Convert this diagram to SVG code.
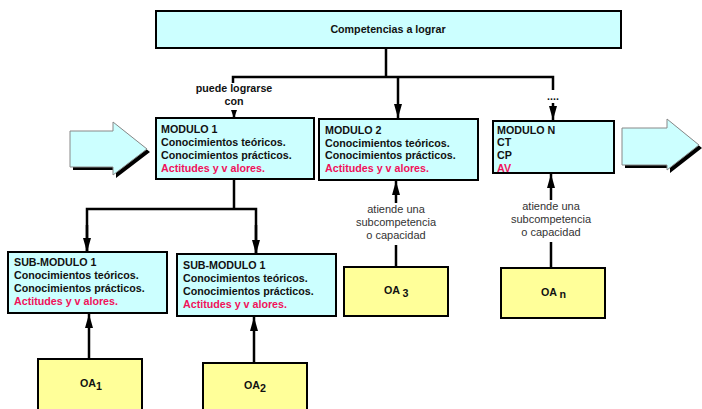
<svg xmlns="http://www.w3.org/2000/svg" width="702" height="409" viewBox="0 0 702 409">
  <style>
    .box { stroke: #000; stroke-width: 2; }
    .cyan { fill: #CCFFFF; }
    .yellow { fill: #FFFF99; }
    .t { font-family: "Liberation Sans", Arial, sans-serif; font-size: 10.7px; font-weight: bold; fill: #111; }
    .red { fill: #F0125A; }
    .note { font-family: "Liberation Sans", Arial, sans-serif; font-size: 11px; fill: #333; text-anchor: middle; }
    .mid { text-anchor: middle; }
    .line { stroke: #000; stroke-width: 2.5; fill: none; }
    .big-arrow { fill: #CCFFFF; stroke: #888; stroke-width: 1; }
  </style>
  <defs>
    <marker id="head" viewBox="0 0 14 8" refX="14" refY="4" markerWidth="14" markerHeight="8" markerUnits="userSpaceOnUse" orient="auto">
      <path d="M0,0 L14,4 L0,8 z" fill="#000"/>
    </marker>
    <marker id="head-small" viewBox="0 0 8 6" refX="8" refY="3" markerWidth="8" markerHeight="6" markerUnits="userSpaceOnUse" orient="auto">
      <path d="M0,0 L8,3 L0,6 z" fill="#000"/>
    </marker>
  </defs>

  <!-- flow arrows at both sides -->
  <g id="arrow-in">
    <polygon points="73,134 116,134 116,125 150,152 116,178 116,170 73,170" fill="#000"/>
    <polygon class="big-arrow" points="70,131 113,131 113,122 147,149 113,175 113,167 70,167"/>
  </g>
  <g id="arrow-out">
    <polygon points="625,131 670,131 670,122 702,148 670,173 670,168 625,168" fill="#000"/>
    <polygon class="big-arrow" points="622,128 667,128 667,119 699,145 667,170 667,165 622,165"/>
  </g>

  <!-- connectors -->
  <g id="connectors">
    <polyline class="line" points="386,48 386,77"/>
    <polyline class="line" points="233,83 233,77 553,77 553,90"/>
    <polyline class="line" points="398,77 398,118" marker-end="url(#head)"/>
    <line class="line" x1="234" y1="111" x2="234" y2="118" marker-end="url(#head-small)"/>
    <line class="line" x1="553" y1="103" x2="553" y2="120" marker-end="url(#head)"/>
    <polyline class="line" points="234,179 234,209"/>
    <polyline class="line" points="87,252 87,209 256,209 256,254"/>
    <line class="line" x1="87" y1="225" x2="87" y2="252" marker-end="url(#head)"/>
    <line class="line" x1="256" y1="225" x2="256" y2="254" marker-end="url(#head)"/>
    <line class="line" x1="89" y1="359" x2="89" y2="314" marker-end="url(#head)"/>
    <line class="line" x1="254" y1="363" x2="254" y2="317" marker-end="url(#head)"/>
    <line class="line" x1="396" y1="203" x2="396" y2="181" marker-end="url(#head)"/>
    <line class="line" x1="396" y1="245" x2="396" y2="267"/>
    <line class="line" x1="551" y1="200" x2="551" y2="174" marker-end="url(#head)"/>
    <line class="line" x1="551" y1="242" x2="551" y2="268"/>
    <text class="t mid" x="234" y="92">puede lograrse</text>
    <text class="t mid" x="234" y="105">con</text>
    <text class="t mid" x="553" y="100">....</text>
    <text class="note" x="396" y="213">atiende una</text>
    <text class="note" x="396" y="226">subcompetencia</text>
    <text class="note" x="396" y="239">o capacidad</text>
    <text class="note" x="551" y="210">atiende una</text>
    <text class="note" x="551" y="223">subcompetencia</text>
    <text class="note" x="551" y="236">o capacidad</text>
  </g>

  <g id="competencias">
    <rect class="box cyan" x="156" y="11" width="465" height="37"/>
    <text class="t mid" x="388" y="33">Competencias a lograr</text>
  </g>

  <g id="modulo-1">
    <rect class="box cyan" x="156" y="118" width="158" height="61"/>
    <text class="t" x="161" y="133">MODULO 1</text>
    <text class="t" x="161" y="146">Conocimientos teóricos.</text>
    <text class="t" x="161" y="159">Conocimientos prácticos.</text>
    <text class="t red" x="161" y="172">Actitudes y v alores.</text>
  </g>

  <g id="modulo-2">
    <rect class="box cyan" x="319" y="119" width="159" height="61"/>
    <text class="t" x="325" y="134">MODULO 2</text>
    <text class="t" x="325" y="147">Conocimientos teóricos.</text>
    <text class="t" x="325" y="159">Conocimientos prácticos.</text>
    <text class="t red" x="325" y="172">Actitudes y v alores.</text>
  </g>

  <g id="modulo-n">
    <rect class="box cyan" x="493" y="121" width="121" height="52"/>
    <text class="t" x="497" y="134">MODULO N</text>
    <text class="t" x="497" y="146">CT</text>
    <text class="t" x="497" y="159">CP</text>
    <text class="t red" x="497" y="172">AV</text>
  </g>

  <g id="sub-modulo-a">
    <rect class="box cyan" x="8" y="252" width="159" height="61"/>
    <text class="t" x="14" y="266">SUB-MODULO 1</text>
    <text class="t" x="14" y="279">Conocimientos teóricos.</text>
    <text class="t" x="14" y="292">Conocimientos prácticos.</text>
    <text class="t red" x="14" y="305">Actitudes y v alores.</text>
  </g>

  <g id="sub-modulo-b">
    <rect class="box cyan" x="177" y="254" width="159" height="62"/>
    <text class="t" x="183" y="269">SUB-MODULO 1</text>
    <text class="t" x="183" y="282">Conocimientos teóricos.</text>
    <text class="t" x="183" y="295">Conocimientos prácticos.</text>
    <text class="t red" x="183" y="308">Actitudes y v alores.</text>
  </g>

  <g id="oa-1">
    <rect class="box yellow" x="38" y="359" width="104" height="55"/>
    <text class="t" x="80" y="387">OA<tspan dy="3">1</tspan></text>
  </g>
  <g id="oa-2">
    <rect class="box yellow" x="203" y="363" width="104" height="55"/>
    <text class="t" x="244" y="389">OA<tspan dy="3">2</tspan></text>
  </g>
  <g id="oa-3">
    <rect class="box yellow" x="344" y="267" width="104" height="49"/>
    <text class="t" x="384" y="294">OA <tspan dy="3">3</tspan></text>
  </g>
  <g id="oa-n">
    <rect class="box yellow" x="501" y="268" width="104" height="50"/>
    <text class="t" x="541" y="296">OA <tspan dy="2">n</tspan></text>
  </g>
</svg>
